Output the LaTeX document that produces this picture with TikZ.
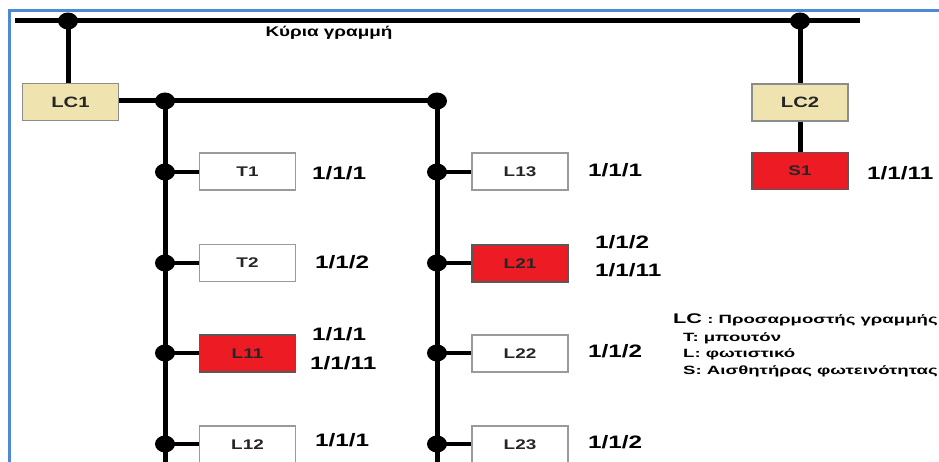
\documentclass[tikz,border=0pt]{standalone}
\usepackage{fontspec}
\setmainfont{Liberation Sans}
\usepackage{graphicx}
\newcommand\strtxt[1]{\scalebox{1.35}[1]{#1}}
\newcommand\strleg[1]{\scalebox{1.55}[1]{#1}}
\definecolor{lcbeige}{HTML}{EFE4B0}
\definecolor{alarmred}{HTML}{ED1C24}
\definecolor{frameblue}{HTML}{4F88D4}
\definecolor{boxgray}{HTML}{9A9A9A}
\begin{document}
\begin{tikzpicture}[x=1pt,y=-1pt,
  box/.style={draw=boxgray, line width=1.2pt, minimum width=96pt, minimum height=37pt, inner sep=0pt,
    font=\bfseries\fontsize{14}{15}\selectfont, text=black!85},
  lcbox/.style={box, fill=lcbeige, draw=gray!90, font=\bfseries\fontsize{15}{16}\selectfont},
  redbox/.style={box, fill=alarmred, draw=gray!70!black},
  wbox/.style={box, fill=white},
  addr/.style={anchor=west, inner sep=0pt, font=\bfseries\fontsize{18}{20}\selectfont},
  legend/.style={anchor=west, inner sep=0pt, font=\bfseries\fontsize{12}{13}\selectfont},
  bus/.style={line width=5pt},
  wire/.style={line width=3.5pt},
  junction/.style={fill=black}]
\useasboundingbox (0,0) rectangle (939,462);
\clip (0,0) rectangle (939,462);
% frame
\draw[frameblue, line width=3pt] (9,475) -- (9,11) -- (945,11);

% coordinates
\coordinate (m0) at (15,21);
\coordinate (m1) at (860,21);
\coordinate (j1) at (68,21);
\coordinate (j2) at (800,21);
\coordinate (jL) at (165,101);
\coordinate (jR) at (437,101);
\coordinate (bL) at (165,480);
\coordinate (bR) at (437,480);
\coordinate (l1) at (165,172);
\coordinate (l2) at (165,263);
\coordinate (l3) at (165,353);
\coordinate (l4) at (165,444);
\coordinate (r1) at (437,172);
\coordinate (r2) at (437,263);
\coordinate (r3) at (437,353);
\coordinate (r4) at (437,444);

% boxes
\node[lcbox] (LC1) at (70.5,102) {\strtxt{LC1}};
\node[lcbox] (LC2) at (800,102.5) {\strtxt{LC2}};
\node[redbox] (S1) at (800,171) {\strtxt{S1}};
\node[wbox] (T1) at (247.5,171.5) {\strtxt{T1}};
\node[wbox] (T2) at (247.5,263) {\strtxt{T2}};
\node[redbox] (L11) at (247.5,353.5) {\strtxt{L11}};
\node[wbox] (L12) at (247.5,444.5) {\strtxt{L12}};
\node[wbox] (L13) at (520,171.5) {\strtxt{L13}};
\node[redbox] (L21) at (520,263.5) {\strtxt{L21}};
\node[wbox] (L22) at (520,353.5) {\strtxt{L22}};
\node[wbox] (L23) at (520,444.5) {\strtxt{L23}};

% lines
\draw[bus] (m0) -- (m1);
\draw[bus] (j1) -- (j1 |- LC1.north);
\draw[bus] (j2) -- (LC2.north);
\draw[bus] (LC2.south) -- (S1.north);
\draw[bus] (LC1.east |- jL) -- (jR);
\draw[bus] (jL) -- (bL);
\draw[bus] (jR) -- (bR);
\draw[wire] (l1) -- (l1 -| T1.west);
\draw[wire] (l2) -- (l2 -| T2.west);
\draw[wire] (l3) -- (l3 -| L11.west);
\draw[wire] (l4) -- (l4 -| L12.west);
\draw[wire] (r1) -- (r1 -| L13.west);
\draw[wire] (r2) -- (r2 -| L21.west);
\draw[wire] (r3) -- (r3 -| L22.west);
\draw[wire] (r4) -- (r4 -| L23.west);

% junction dots
\foreach \j in {j1,j2,jL,jR,l1,l2,l3,l4,r1,r2,r3,r4}
  \fill[junction] (\j) ellipse [x radius=10pt, y radius=8.5pt];

% main line label
\node[inner sep=0pt, font=\bfseries\fontsize{14}{15}\selectfont] (main) at (329,33) {\strtxt{Κύρια γραμμή}};

% addresses
\node[addr] (aT1) at (312,173) {\strtxt{1/1/1}};
\node[addr] (aT2) at (315,262) {\strtxt{1/1/2}};
\node[addr] (aL11a) at (312,334) {\strtxt{1/1/1}};
\node[addr] (aL11b) at (310,363) {\strtxt{1/1/11}};
\node[addr] (aL12) at (315,440) {\strtxt{1/1/1}};
\node[addr] (aL13) at (588,170) {\strtxt{1/1/1}};
\node[addr] (aL21a) at (595,242) {\strtxt{1/1/2}};
\node[addr] (aL21b) at (595,270) {\strtxt{1/1/11}};
\node[addr] (aL22) at (588,351) {\strtxt{1/1/2}};
\node[addr] (aL23) at (588,442) {\strtxt{1/1/2}};
\node[addr] (aS1) at (867,173) {\strtxt{1/1/11}};

% legend
\node[legend] (lg1) at (673,320) {\strleg{{\fontsize{14}{15}\selectfont LC} : Προσαρμοστής γραμμής}};
\node[legend] (lg2) at (683,338) {\strleg{T: μπουτόν}};
\node[legend] (lg3) at (683,354) {\strleg{L: φωτιστικό}};
\node[legend] (lg4) at (683,371) {\strleg{S: Αισθητήρας φωτεινότητας}};
\end{tikzpicture}
\end{document}
